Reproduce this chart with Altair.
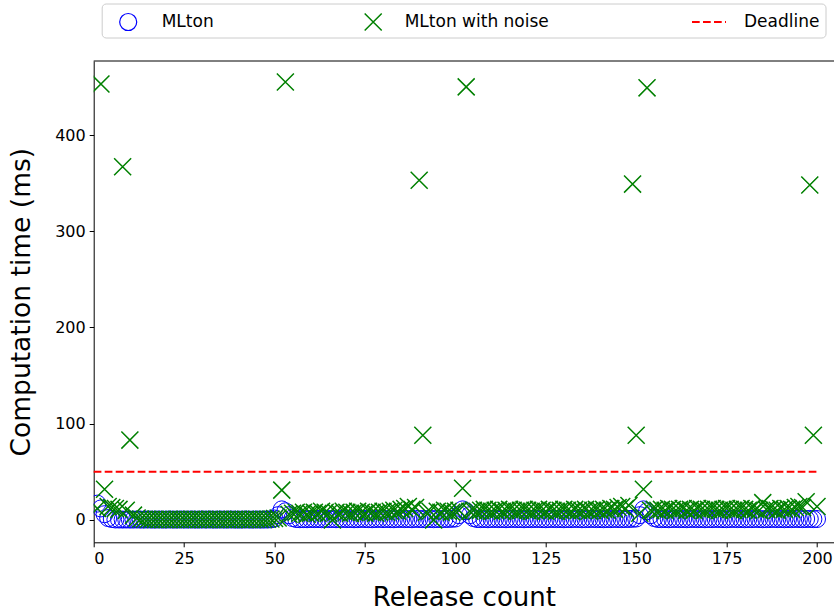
import altair as alt
import pandas as pd

release = list(range(1, 201))

mlton = [
    17, 12, 6, 2, 1, 0.5, 0.5, 0.4, 0.5, 0.4,
    0.4, 0.5, 0.4, 0.4, 0.5, 0.4, 0.4, 0.5, 0.4, 0.4,
    0.5, 0.4, 0.4, 0.5, 0.4, 0.4, 0.5, 0.4, 0.4, 0.5,
    0.4, 0.5, 0.4, 0.4, 0.5, 0.4, 0.4, 0.5, 0.4, 0.4,
    0.4, 0.5, 0.4, 0.4, 0.5, 0.4, 0.4, 0.5, 0.6, 1.5,
    5, 11, 9, 5, 2, 1, 0.8, 0.9, 0.8, 1,
    0.9, 1, 0.8, 1.1, 0.9, 1, 0.8, 1, 1.1, 0.9,
    1, 0.8, 0.9, 1.1, 1, 0.9, 0.8, 1, 1.1, 0.9,
    1, 0.9, 0.8, 1, 1.1, 0.9, 1, 0.8, 1.2, 1,
    0.9, 1, 1.1, 0.8, 1, 0.9, 1, 1.1, 1.2, 1.5,
    5, 11, 9, 5, 2, 1, 0.9, 1, 0.8, 1,
    1.1, 0.9, 1, 0.8, 1, 1.1, 0.9, 1, 0.8, 1,
    0.9, 1.1, 1, 0.9, 0.8, 1, 1.1, 0.9, 1, 0.8,
    1, 0.9, 1.1, 1, 0.8, 0.9, 1, 1.1, 0.9, 1,
    0.8, 1, 0.9, 1.1, 1, 0.9, 1, 1.1, 1.2, 1.5,
    5, 11, 9, 5, 2, 1, 0.9, 1, 0.8, 1,
    1.1, 0.9, 1, 0.8, 1, 1.1, 0.9, 1, 0.8, 1,
    0.9, 1.1, 1, 0.9, 0.8, 1, 1.1, 0.9, 1, 0.8,
    1, 0.9, 1.1, 1, 0.8, 0.9, 1, 1.1, 0.9, 1,
    0.8, 1, 0.9, 1.1, 1, 0.9, 1, 1.1, 0.9, 1,
]

noise = [
    12, 453, 32, 14, 13, 12, 11, 367, 10, 83,
    5, 2, 1, 0.8, 0.6, 0.5, 0.6, 0.5, 0.6, 0.5,
    0.6, 0.5, 0.7, 0.5, 0.6, 0.5, 0.6, 0.7, 0.5, 0.6,
    0.5, 0.6, 0.5, 0.7, 0.6, 0.5, 0.6, 0.5, 0.6, 0.7,
    0.5, 0.6, 0.5, 0.6, 0.7, 0.5, 0.6, 0.8, 1, 1.5,
    2, 31, 455, 6, 7, 8, 7, 8, 6, 7,
    8, 7, 9, 8, 7, 0, 8, 7, 9, 8,
    7, 8, 9, 8, 7, 9, 8, 7, 8, 9,
    8, 9, 10, 9, 11, 12, 14, 11, 13, 353,
    88, 8, 9, 0, 9, 8, 10, 9, 8, 9,
    10, 33, 450, 9, 10, 9, 10, 11, 10, 9,
    10, 11, 9, 10, 11, 10, 9, 10, 11, 10,
    9, 10, 11, 10, 9, 11, 10, 9, 10, 11,
    10, 9, 11, 10, 10, 11, 9, 10, 11, 10,
    11, 10, 12, 11, 13, 14, 12, 15, 349, 88,
    7, 32, 449, 10, 11, 10, 11, 10, 12, 11,
    10, 11, 12, 10, 11, 10, 12, 11, 10, 11,
    12, 11, 10, 11, 12, 11, 10, 11, 12, 11,
    10, 12, 11, 10, 18, 11, 12, 11, 10, 12,
    11, 12, 11, 13, 14, 13, 19, 348, 88, 14,
]

deadline_start = [0]
deadline_end = [200]
deadline_value = [50]

x_ticks = [0, 25, 50, 75, 100, 125, 150, 175, 200]
y_ticks = [0, 100, 200, 300, 400]

FONT = "DejaVu Sans"
W = 740.3
H = 481.3
X_DOMAIN = [0, 204.7]
Y_DOMAIN = [-23.2, 476.9]

df = pd.DataFrame({"release": release, "mlton": mlton, "noise": noise})
dl = pd.DataFrame({"start": deadline_start, "end": deadline_end, "deadline": deadline_value})

xscale = alt.Scale(domain=X_DOMAIN, nice=False, zero=False)
yscale = alt.Scale(domain=Y_DOMAIN, nice=False, zero=False)

x_axis = alt.Axis(values=x_ticks, title="Release count", grid=False, labelFontSize=16,
                  titleFontSize=26, titleFontWeight="normal", labelFont=FONT, titleFont=FONT,
                  tickSize=4.5, labelPadding=4, titlePadding=18, domainColor="black",
                  tickColor="black", labelColor="black", titleColor="black", format="d")
y_axis = alt.Axis(values=y_ticks, title="Computation time (ms)", grid=False, labelFontSize=16,
                  titleFontSize=26.5, titleFontWeight="normal", labelFont=FONT, titleFont=FONT,
                  tickSize=4.5, labelPadding=4, titlePadding=19, domainColor="black",
                  tickColor="black", labelColor="black", titleColor="black", format="d")

X_PATH = "M-1,-1L1,1M-1,1L1,-1"

legend_box = alt.Chart(dl).mark_rect(
    fill="white", stroke="#cccccc", strokeWidth=1, cornerRadius=4
).encode(
    x=alt.value(8.5), x2=alt.value(732.3), y=alt.value(-57), y2=alt.value(-23)
)

top_spine = alt.Chart(dl).mark_rule(color="black", strokeWidth=1).encode(
    x=alt.value(0), x2=alt.value(W), y=alt.value(0)
)

circles = alt.Chart(df).mark_point(
    shape="circle", filled=False, size=290, strokeWidth=1, clip=True, opacity=1
).transform_calculate(s1="'MLton'").encode(
    x=alt.X("release:Q", scale=xscale, axis=x_axis),
    y=alt.Y("mlton:Q", scale=yscale, axis=y_axis),
    color=alt.Color("s1:N", scale=alt.Scale(domain=["MLton"], range=["blue"]),
                    legend=alt.Legend(title=None, orient="none", legendX=25, legendY=-48.5,
                                      padding=0, labelFont=FONT, labelFontSize=17,
                                      labelColor="black", labelOffset=24, labelLimit=300,
                                      symbolType="circle", symbolSize=290,
                                      symbolStrokeWidth=1.2, symbolFillColor="transparent",
                                      symbolStrokeColor="blue")),
)

crosses = alt.Chart(df).mark_point(
    shape=X_PATH, filled=False, size=290, strokeWidth=1.5, clip=True, opacity=1
).transform_calculate(s2="'MLton with noise'").encode(
    x=alt.X("release:Q", scale=xscale, axis=x_axis),
    y=alt.Y("noise:Q", scale=yscale, axis=y_axis),
    color=alt.Color("s2:N", scale=alt.Scale(domain=["MLton with noise"], range=["green"]),
                    legend=alt.Legend(title=None, orient="none", legendX=270, legendY=-48.5,
                                      padding=0, labelFont=FONT, labelFontSize=17,
                                      labelColor="black", labelOffset=22, labelLimit=300,
                                      symbolType=X_PATH, symbolSize=290,
                                      symbolStrokeWidth=1.5, symbolFillColor="transparent",
                                      symbolStrokeColor="green")),
)

deadline = alt.Chart(dl).mark_rule(strokeWidth=2, strokeDash=[7.7, 3.3]).transform_calculate(
    s3="'Deadline'"
).encode(
    x=alt.X("start:Q", scale=xscale, axis=x_axis),
    x2="end:Q",
    y=alt.Y("deadline:Q", scale=yscale, axis=y_axis),
    color=alt.Color("s3:N", scale=alt.Scale(domain=["Deadline"], range=["red"]),
                    legend=alt.Legend(title=None, orient="none", legendX=597.3, legendY=-57,
                                      padding=0, labelFont=FONT, labelFontSize=17,
                                      labelColor="black", labelOffset=17, labelLimit=300,
                                      symbolType="stroke", symbolSize=1156,
                                      symbolStrokeWidth=2, symbolDash=[7.7, 3.3],
                                      symbolStrokeColor="red")),
)

chart = alt.layer(legend_box, top_spine, deadline, circles, crosses).resolve_scale(
    color="independent"
).resolve_legend(color="independent").properties(
    width=W, height=H,
    padding={"left": 93.7, "top": 61, "right": 0, "bottom": 70.7},
    autosize="none",
    background="white",
).configure_view(stroke=None).configure_axis(domainWidth=1, tickWidth=1)

chart.save("out.html", embed_options={"renderer": "svg", "actions": False})
